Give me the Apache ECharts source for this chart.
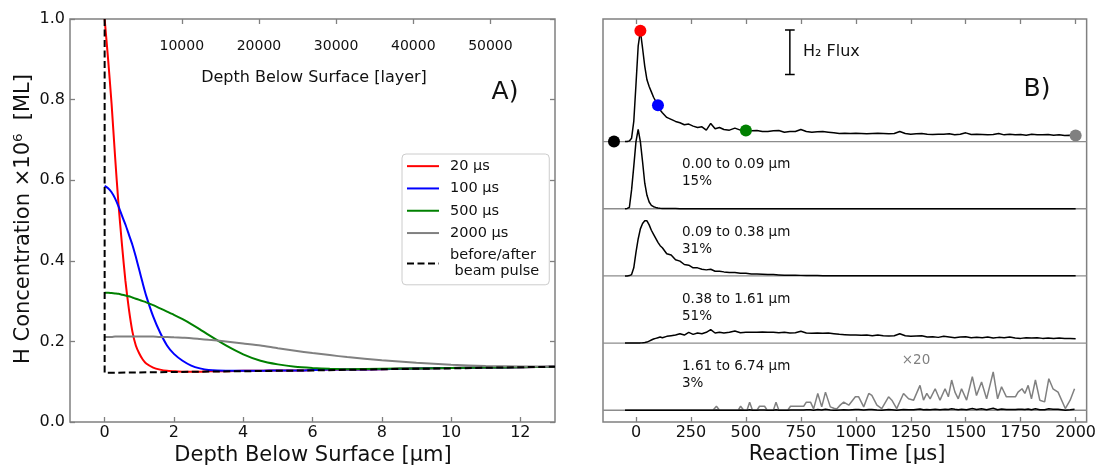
<!DOCTYPE html>
<html>
<head>
<meta charset="utf-8">
<script src="https://cdn.jsdelivr.net/npm/echarts@6/dist/echarts.min.js"></script>
<style>
html,body{margin:0;padding:0;background:#fff;}
#chart{width:1099px;height:465px;}
</style>
</head>
<body>
<div id="chart"></div>
<script>
// ---------------- Panel A data ----------------
const depthUm = [0, 0.1, 0.2, 0.3, 0.4, 0.5, 0.6, 0.7, 0.8, 0.9, 1.0, 1.1, 1.2, 1.4, 1.6, 1.8, 2.0, 2.25, 2.5, 2.75, 3.0, 3.5, 4.0, 4.5, 5.0, 5.5, 6.0, 6.5, 7.0, 8.0, 9.0, 10.0, 11.0, 12.0, 13.0];
const conc20us = [1.0, 0.9, 0.79, 0.66, 0.54, 0.44, 0.35, 0.28, 0.225, 0.19, 0.17, 0.155, 0.145, 0.135, 0.13, 0.127, 0.126, 0.125, 0.125, 0.125, 0.126, 0.126, 0.127, 0.127, 0.128, 0.128, 0.129, 0.13, 0.13, 0.131, 0.133, 0.134, 0.135, 0.136, 0.137];
const conc100us = [0.586, 0.58, 0.57, 0.555, 0.535, 0.512, 0.49, 0.465, 0.44, 0.41, 0.377, 0.344, 0.313, 0.262, 0.222, 0.19, 0.169, 0.152, 0.14, 0.133, 0.129, 0.127, 0.127, 0.127, 0.128, 0.128, 0.129, 0.13, 0.13, 0.131, 0.133, 0.134, 0.135, 0.136, 0.137];
const conc500us = [0.321, 0.321, 0.32, 0.319, 0.318, 0.316, 0.314, 0.312, 0.309, 0.306, 0.303, 0.3, 0.297, 0.29, 0.282, 0.274, 0.266, 0.255, 0.243, 0.23, 0.216, 0.19, 0.168, 0.152, 0.143, 0.137, 0.134, 0.132, 0.131, 0.132, 0.133, 0.134, 0.135, 0.136, 0.137];
const conc2000us = [0.211, 0.211, 0.211, 0.212, 0.212, 0.212, 0.212, 0.212, 0.212, 0.212, 0.212, 0.212, 0.212, 0.212, 0.211, 0.211, 0.21, 0.209, 0.208, 0.206, 0.204, 0.2, 0.195, 0.19, 0.183, 0.177, 0.171, 0.166, 0.161, 0.153, 0.147, 0.142, 0.139, 0.138, 0.137];
const pulseDepthUm = [0, 0, 2, 4, 6, 8, 10, 12, 13];
const pulseConc = [1.0, 0.122, 0.124, 0.126, 0.128, 0.131, 0.133, 0.136, 0.137];
const profileNames = ['20 µs', '100 µs', '500 µs', '2000 µs', 'before/after\n beam pulse'];
const depthTicks = [0, 2, 4, 6, 8, 10, 12];
const layerTicks = [10000, 20000, 30000, 40000, 50000];
const layersPerUm = 4490;

// ---------------- Panel B data ----------------
const timeUs = [-50, -40, -30, -20, -10, 0, 10, 20, 30, 40, 50, 60, 70, 80, 90, 100, 110, 120,
  140, 160, 180, 200, 220, 240, 260, 280, 300, 320, 340, 360, 380, 400,
  425, 450, 475, 500, 525, 550, 575, 600, 625, 650, 675, 700, 725, 750, 775, 800, 825, 850, 875, 900, 925, 950, 975, 1000,
  1025, 1050, 1075, 1100, 1125, 1150, 1175, 1200, 1225, 1250, 1275, 1300, 1325, 1350, 1375, 1400, 1425, 1450, 1475, 1500,
  1525, 1550, 1575, 1600, 1625, 1650, 1675, 1700, 1725, 1750, 1775, 1800, 1825, 1850, 1875, 1900, 1925, 1950, 1975, 2000];
const fluxTotal = [0, 0, 0.01, 0.05, 0.3, 0.85, 1.42, 1.65, 1.39, 1.12, 0.92, 0.82, 0.74, 0.66, 0.6, 0.54, 0.47, 0.43,
  0.36, 0.33, 0.3, 0.28, 0.25, 0.26, 0.23, 0.21, 0.22, 0.17, 0.27, 0.19, 0.21, 0.18,
  0.17, 0.2, 0.17, 0.165, 0.16, 0.165, 0.15, 0.15, 0.16, 0.165, 0.14, 0.15, 0.15, 0.18, 0.15, 0.14, 0.145, 0.15, 0.14, 0.13, 0.12, 0.125, 0.12, 0.125,
  0.12, 0.115, 0.12, 0.125, 0.12, 0.115, 0.12, 0.15, 0.12, 0.11, 0.115, 0.12, 0.11, 0.105, 0.11, 0.11, 0.115, 0.1, 0.11, 0.13,
  0.105, 0.11, 0.105, 0.1, 0.105, 0.12, 0.1, 0.11, 0.1, 0.105, 0.095, 0.11, 0.1, 0.1, 0.105, 0.095, 0.1, 0.09, 0.095, 0.09];
const flux0to009 = [0, 0.005, 0.02, 0.28, 0.63, 1.0, 1.18, 1.0, 0.7, 0.38, 0.2, 0.1, 0.05, 0.03, 0.02, 0.012, 0.008, 0.005,
  0.003, 0.002, 0.002, 0.001, 0.001, 0, 0, 0, 0, 0, 0, 0, 0, 0,
  0, 0, 0, 0, 0, 0, 0, 0, 0, 0, 0, 0, 0, 0, 0, 0, 0, 0, 0, 0, 0, 0, 0, 0,
  0, 0, 0, 0, 0, 0, 0, 0, 0, 0, 0, 0, 0, 0, 0, 0, 0, 0, 0, 0,
  0, 0, 0, 0, 0, 0, 0, 0, 0, 0, 0, 0, 0, 0, 0, 0, 0, 0, 0, 0];
const flux009to038 = [0, 0, 0.005, 0.02, 0.12, 0.35, 0.55, 0.7, 0.78, 0.82, 0.82, 0.76, 0.68, 0.62, 0.56, 0.5, 0.45, 0.42,
  0.33, 0.31, 0.24, 0.22, 0.17, 0.16, 0.12, 0.12, 0.1, 0.09, 0.1, 0.07, 0.07, 0.06,
  0.05, 0.05, 0.04, 0.04, 0.03, 0.03, 0.025, 0.02, 0.02, 0.015, 0.01, 0.01, 0.01, 0.008, 0.006, 0.005, 0.005, 0.004, 0.004, 0.003, 0.003, 0.003, 0.002, 0.002,
  0.002, 0.002, 0.002, 0.002, 0.002, 0.002, 0.002, 0.002, 0.002, 0.002, 0.002, 0.002, 0.002, 0.002, 0.002, 0.002, 0.002, 0.002, 0.002, 0.002,
  0.001, 0.001, 0.001, 0.001, 0.001, 0.001, 0.001, 0.001, 0.001, 0.001, 0.001, 0.001, 0.001, 0.001, 0.001, 0.001, 0.001, 0.001, 0.001, 0.001];
const flux038to161 = [0, 0, 0, 0, 0, 0.001, 0.002, 0.003, 0.006, 0.01, 0.015, 0.03, 0.045, 0.06, 0.07, 0.08, 0.09, 0.08,
  0.1, 0.11, 0.12, 0.14, 0.12, 0.16, 0.13, 0.15, 0.14, 0.16, 0.2, 0.15, 0.16, 0.15,
  0.16, 0.18, 0.155, 0.16, 0.16, 0.16, 0.165, 0.16, 0.16, 0.155, 0.16, 0.15, 0.155, 0.175, 0.15, 0.145, 0.15, 0.145, 0.15, 0.14, 0.13, 0.125, 0.12, 0.12,
  0.115, 0.12, 0.11, 0.12, 0.11, 0.105, 0.11, 0.14, 0.11, 0.1, 0.105, 0.11, 0.09, 0.095, 0.085, 0.1, 0.09, 0.08, 0.09, 0.095,
  0.08, 0.085, 0.08, 0.09, 0.075, 0.085, 0.08, 0.09, 0.075, 0.07, 0.08, 0.075, 0.08, 0.07, 0.075, 0.07, 0.075, 0.07, 0.07, 0.065];
// deepest layer (1.61 to 6.74 µm)
const timeDeepUs = [-50, 350, 366, 380, 465, 476, 490, 505, 517, 530, 550, 562, 585, 597, 625, 637, 650, 690, 703, 763, 775, 794, 808, 827, 845, 862, 884, 900, 913, 930, 945, 968, 998, 1013, 1036, 1059, 1073, 1096, 1118, 1149, 1164, 1186, 1217, 1240, 1263, 1292, 1308, 1323, 1338, 1361, 1383, 1406, 1421, 1436, 1451, 1466, 1481, 1504, 1530, 1549, 1572, 1595, 1625, 1645, 1663, 1685, 1708, 1726, 1738, 1756, 1769, 1784, 1799, 1817, 1837, 1859, 1878, 1897, 1920, 1953, 1975, 1995];
const fluxDeepX20 = [0, 0, 0.06, 0, 0, 0.06, 0, 0, 0.12, 0, 0, 0.06, 0.06, 0, 0, 0.12, 0, 0, 0.06, 0.06, 0.12, 0.12, 0.02, 0.25, 0.05, 0.27, 0.05, 0.03, 0.02, 0.08, 0.12, 0.075, 0.2, 0.2, 0.05, 0.25, 0.22, 0.075, 0.025, 0.2, 0.15, 0.025, 0.25, 0.17, 0.15, 0.37, 0.15, 0.25, 0.17, 0.32, 0.15, 0.32, 0.2, 0.45, 0.27, 0.17, 0.32, 0.15, 0.5, 0.22, 0.42, 0.17, 0.57, 0.17, 0.35, 0.2, 0.2, 0.2, 0.27, 0.32, 0.25, 0.37, 0.17, 0.45, 0.15, 0.125, 0.47, 0.32, 0.27, 0.025, 0.15, 0.32];
const deepMagnification = 20;
const markerTimes = [-100, 20, 100, 500, 2000];
const markerFlux = [0, 1.65, 0.54, 0.165, 0.09];
const layerLabels = ['0.00 to 0.09 µm\n15%', '0.09 to 0.38 µm\n31%', '0.38 to 1.61 µm\n51%', '1.61 to 6.74 µm\n3%'];
const timeTicks = [0, 250, 500, 750, 1000, 1250, 1500, 1750, 2000];

// ---------------- build ----------------
const FONT = 'DejaVu Sans';
const TXT = '#111';
const FRAME = '#808080';
const pairs = (xs, ys, k = 1, off = 0) => xs.map((x, i) => [x, ys[i] * k + off]);
const plain = v => String(Math.round(v));

const tickStyle = { color: FRAME, width: 1.3 };
const baseAxis = {
  type: 'value',
  axisLine: { show: false, onZero: false },
  splitLine: { show: false },
};

const profileColors = ['#ff0000', '#0000ff', '#008000', '#808080'];
const profiles = [conc20us, conc100us, conc500us, conc2000us];

const series = [];
profiles.forEach((vals, i) => {
  series.push({
    name: profileNames[i], type: 'line', xAxisIndex: 0, yAxisIndex: 0,
    data: pairs(depthUm, vals), symbol: 'none', smooth: 0.2,
    lineStyle: { color: profileColors[i], width: 2 }, itemStyle: { color: profileColors[i] },
    z: 3
  });
});
series.push({
  name: profileNames[4], type: 'line', xAxisIndex: 0, yAxisIndex: 0,
  data: pairs(pulseDepthUm, pulseConc), symbol: 'none',
  lineStyle: { color: '#000', width: 2, type: [7, 3.5] }, itemStyle: { color: '#000' },
  z: 4
});

// Panel B: baselines for the five stacked traces
const offsets = [4, 3, 2, 1, 0];
offsets.forEach(o => {
  series.push({
    type: 'line', xAxisIndex: 2, yAxisIndex: 2, symbol: 'none', silent: true,
    data: [[-150, o], [2050, o]],
    lineStyle: { color: '#8c8c8c', width: 1.3 }, z: 2
  });
});
// grey x20 trace (behind black)
series.push({
  type: 'line', xAxisIndex: 2, yAxisIndex: 2, symbol: 'none',
  data: pairs(timeDeepUs, fluxDeepX20, 1, 0),
  lineStyle: { color: '#808080', width: 1.5 }, z: 3
});
const blackTraces = [fluxTotal, flux0to009, flux009to038, flux038to161];
blackTraces.forEach((vals, i) => {
  series.push({
    type: 'line', xAxisIndex: 2, yAxisIndex: 2, symbol: 'none',
    data: pairs(timeUs, vals, 1, offsets[i]),
    lineStyle: { color: '#000', width: 1.5 }, z: 4
  });
});
series.push({
  type: 'line', xAxisIndex: 2, yAxisIndex: 2, symbol: 'none',
  data: pairs(timeDeepUs, fluxDeepX20, 1 / deepMagnification, 0),
  lineStyle: { color: '#000', width: 1.5 }, z: 4
});
// coloured markers on total flux
const markerColors = ['#000000', '#ff0000', '#0000ff', '#008000', '#808080'];
series.push({
  type: 'scatter', xAxisIndex: 2, yAxisIndex: 2, symbolSize: 12,
  data: markerTimes.map((t, i) => ({ value: [t, markerFlux[i] + offsets[0]], itemStyle: { color: markerColors[i], opacity: 1 } })),
  itemStyle: { opacity: 1 },
  z: 6, clip: false
});
// H2 flux scale bar
const barT = 700, barLo = 5.0, barHi = 5.66, cap = 22;
series.push({
  type: 'line', xAxisIndex: 2, yAxisIndex: 2, symbol: 'none', connectNulls: false,
  data: [[barT, barLo], [barT, barHi], null, [barT - cap, barLo], [barT + cap, barLo], null, [barT - cap, barHi], [barT + cap, barHi]],
  lineStyle: { color: '#000', width: 1.5 }, z: 5
});

const labelStyle = { fontFamily: FONT, color: TXT, fontSize: 16 };

const option = {
  animation: false,
  backgroundColor: '#fff',
  grid: [
    { left: 70, top: 19, width: 485, height: 403, show: true, borderColor: FRAME, borderWidth: 1.5, backgroundColor: 'transparent' },
    { left: 603, top: 19, width: 486, height: 403, show: true, borderColor: FRAME, borderWidth: 1.5, backgroundColor: 'transparent' }
  ],
  xAxis: [
    Object.assign({}, baseAxis, { gridIndex: 0, position: 'bottom', min: -1, max: 13,
      axisTick: { inside: true, length: 5, lineStyle: tickStyle, customValues: depthTicks },
      axisLabel: Object.assign({ margin: 3, customValues: depthTicks, formatter: plain }, labelStyle) }),
    Object.assign({}, baseAxis, { gridIndex: 0, position: 'top', min: -layersPerUm, max: 13 * layersPerUm,
      axisTick: { inside: true, length: 5, lineStyle: tickStyle, customValues: layerTicks },
      axisLabel: Object.assign({ inside: true, margin: 20, customValues: layerTicks, formatter: plain }, labelStyle, { fontSize: 14 }) }),
    Object.assign({}, baseAxis, { gridIndex: 1, position: 'bottom', min: -150, max: 2050,
      axisTick: { inside: true, length: 5, lineStyle: tickStyle, customValues: timeTicks },
      axisLabel: Object.assign({ margin: 3, customValues: timeTicks, formatter: plain }, labelStyle) }),
    Object.assign({}, baseAxis, { gridIndex: 1, position: 'top', min: -150, max: 2050,
      axisTick: { inside: true, length: 5, lineStyle: tickStyle, customValues: timeTicks },
      axisLabel: { show: false } })
  ],
  yAxis: [
    Object.assign({}, baseAxis, { gridIndex: 0, position: 'left', min: 0, max: 1, interval: 0.2,
      axisTick: { inside: true, length: 5, lineStyle: tickStyle },
      axisLabel: Object.assign({ margin: 5, formatter: v => v.toFixed(1) }, labelStyle) }),
    Object.assign({}, baseAxis, { gridIndex: 0, position: 'right', min: 0, max: 1, interval: 0.2,
      axisTick: { inside: true, length: 5, lineStyle: tickStyle },
      axisLabel: { show: false } }),
    Object.assign({}, baseAxis, { gridIndex: 1, position: 'left', min: -0.175, max: 5.825,
      axisTick: { show: false }, axisLabel: { show: false } })
  ],
  legend: {
    left: 402, top: 154, orient: 'vertical',
    data: profileNames,
    itemWidth: 32, itemHeight: 10, itemGap: 6,
    padding: [4, 10, 5, 4],
    borderColor: '#cccccc', borderWidth: 1, borderRadius: 4,
    backgroundColor: 'rgba(255,255,255,0.85)',
    itemStyle: { opacity: 0 },
    textStyle: { fontFamily: FONT, fontSize: 14.5, lineHeight: 16.3, color: TXT, padding: [0, 0, 0, 6] }
  },
  series: series,
  graphic: [
    { type: 'text', x: 24, y: 219, rotation: Math.PI / 2,
      style: { text: 'H Concentration ×10⁶  [ML]', font: '21px "DejaVu Sans"', fill: TXT, textAlign: 'center', textVerticalAlign: 'middle' } },
    { type: 'text', x: 313, y: 456,
      style: { text: 'Depth Below Surface [µm]', font: '21px "DejaVu Sans"', fill: TXT, textAlign: 'center', textVerticalAlign: 'middle' } },
    { type: 'text', x: 314, y: 78,
      style: { text: 'Depth Below Surface [layer]', font: '16px "DejaVu Sans"', fill: TXT, textAlign: 'center', textVerticalAlign: 'middle' } },
    { type: 'text', x: 505, y: 92,
      style: { text: 'A)', font: '25px "DejaVu Sans"', fill: TXT, textAlign: 'center', textVerticalAlign: 'middle' } },
    { type: 'text', x: 1037, y: 89,
      style: { text: 'B)', font: '25px "DejaVu Sans"', fill: TXT, textAlign: 'center', textVerticalAlign: 'middle' } },
    { type: 'text', x: 847, y: 455,
      style: { text: 'Reaction Time [µs]', font: '21px "DejaVu Sans"', fill: TXT, textAlign: 'center', textVerticalAlign: 'middle' } },
    { type: 'text', x: 803, y: 52,
      style: { text: 'H₂ Flux', font: '16px "DejaVu Sans"', fill: TXT, textAlign: 'left', textVerticalAlign: 'middle' } },
    { type: 'text', x: 916, y: 360,
      style: { text: '×20', font: '13.5px "DejaVu Sans"', fill: '#808080', textAlign: 'center', textVerticalAlign: 'middle' } }
  ].concat(layerLabels.map((t, i) => ({
    type: 'text', x: 682, y: [173.3, 240.7, 307.7, 374.8][i],
    style: { text: t, font: '13.5px "DejaVu Sans"', lineHeight: 16.7, fill: TXT, textAlign: 'left', textVerticalAlign: 'middle' }
  })))
};

const chart = echarts.init(document.getElementById('chart'), null, { renderer: 'canvas' });
chart.setOption(option);
</script>
</body>
</html>
